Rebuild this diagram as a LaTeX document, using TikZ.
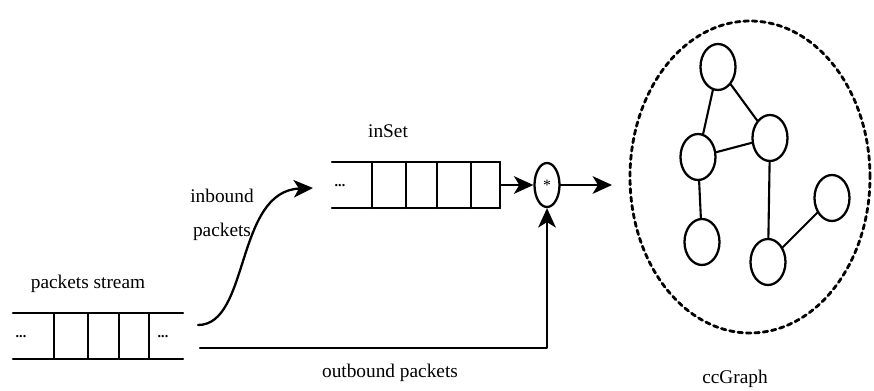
\documentclass[tikz,border=0pt]{standalone}
\usepackage{fontspec}
\setmainfont{Liberation Serif}
\usetikzlibrary{arrows.meta,shapes.geometric}

\tikzset{
  lbl/.style={font=\fontsize{11}{13}\selectfont},
  dots/.style={font=\bfseries\fontsize{8}{9}\selectfont,inner sep=0pt},
  bar/.style={line width=1.3pt},
  flow/.style={line width=1.3pt,-{Stealth[length=11pt,width=10pt,inset=3pt]}},
  gnode/.style={draw,ellipse,line width=1.3pt,minimum width=0.7cm,minimum height=0.92cm,inner sep=0pt},
}

\begin{document}
\begin{tikzpicture}[line cap=round,line join=round]
  \useasboundingbox (0,0) rectangle (17.48,7.82);
  % packets stream
  \draw[bar] (0.26,1.56) -- (3.66,1.56);
  \draw[bar] (0.26,0.64) -- (3.66,0.64);
  \foreach \x in {1.08,1.76,2.38,2.98}
    \draw[bar] (\x,1.56) -- (\x,0.64);
  \node[dots] (sdotl) at (0.42,1.08) {...};
  \node[dots] (sdotr) at (3.26,1.08) {...};
  \node[lbl] (stream) at (1.76,2.14) {packets stream};
  % inSet
  \draw[bar] (6.64,4.58) -- (10.00,4.58);
  \draw[bar] (6.64,3.66) -- (10.00,3.66);
  \foreach \x in {7.44,8.12,8.74,9.42,10.00}
    \draw[bar] (\x,4.58) -- (\x,3.66);
  \node[dots] (idot) at (6.80,4.10) {...};
  \node[lbl] (inset) at (7.76,5.20) {inSet};
  % join
  \node[draw,ellipse,line width=1.3pt,minimum width=0.5cm,minimum height=0.88cm,inner sep=0pt,
        font=\fontsize{9}{9}\selectfont] (star) at (10.94,4.12) {*};
  \coordinate (setout) at (10.00,4.12);
  \coordinate (ccin) at (12.24,4.12);
  \draw[flow] (setout) -- (star);
  \draw[flow] (star) -- (ccin);
  % inbound / outbound
  \coordinate (instart) at (3.96,1.32);
  \coordinate (inend) at (6.26,4.06);
  \draw[flow] (instart) .. controls (5.0,1.32) and (4.7,4.0) .. (inend);
  \node[lbl] (inb1) at (4.44,3.90) {inbound};
  \node[lbl] (inb2) at (4.44,3.18) {packets};
  \coordinate (outstart) at (4.00,0.86);
  \draw[flow] (outstart) -| (star.south);
  \node[lbl] (outb) at (7.80,0.36) {outbound packets};
  % ccGraph
  \node[draw,ellipse,dash pattern=on 2.6pt off 2.2pt,line width=1.6pt,
        minimum width=4.8cm,minimum height=6.24cm] (cc) at (15.0,4.28) {};
  \node[lbl] (ccname) at (14.70,0.24) {ccGraph};
  \node[gnode] (g1) at (14.36,6.48) {};
  \node[gnode] (g2) at (15.40,5.06) {};
  \node[gnode] (g3) at (13.96,4.68) {};
  \node[gnode] (g4) at (14.04,2.98) {};
  \node[gnode] (g5) at (15.36,2.58) {};
  \node[gnode] (g6) at (16.64,3.86) {};
  \draw[line width=1.2pt] (g1) -- (g3);
  \draw[line width=1.2pt] (g1) -- (g2);
  \draw[line width=1.2pt] (g3) -- (g2);
  \draw[line width=1.2pt] (g3) -- (g4);
  \draw[line width=1.2pt] (g2) -- (g5);
  \draw[line width=1.2pt] (g5) -- (g6);
\end{tikzpicture}
\end{document}
